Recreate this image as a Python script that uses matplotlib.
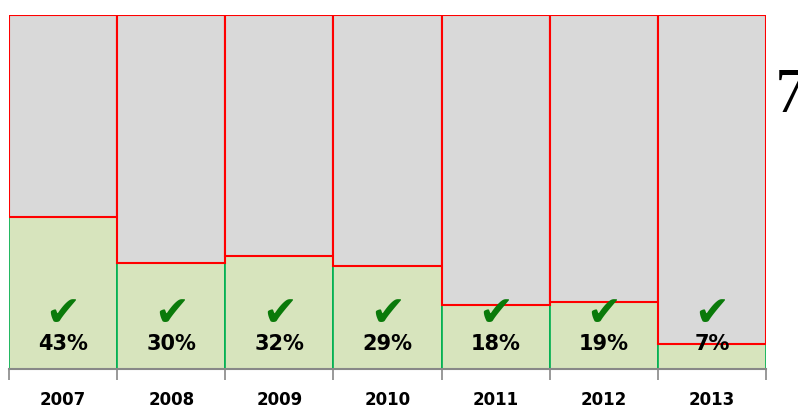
import matplotlib
matplotlib.use('Agg')
import matplotlib.pyplot as plt

years = ['2007', '2008', '2009', '2010', '2011', '2012', '2013']
share = [43, 30, 32, 29, 18, 19, 7]
rest = [100 - v for v in share]

fig = plt.figure(figsize=(7.98, 4.09), dpi=100)
ax = fig.add_axes([9 / 798, 40 / 409, 757 / 798, 354 / 409])

x = list(range(len(years)))
ax.bar(x, share, width=1.0, color='#d7e4bd', edgecolor='#00b050', linewidth=1.2)
ax.bar(x, rest, width=1.0, bottom=share, color='#d9d9d9', edgecolor='#ff0000', linewidth=1.5)

for xi, v in zip(x, share):
    ax.text(xi, 15.5, '\u2714', ha='center', va='center', fontsize=30,
            color='#0a7a0a', family='DejaVu Sans')
    ax.text(xi, 7, f'{v}%', ha='center', va='center', fontsize=15,
            fontweight='bold', color='black')

ax.set_xlim(-0.5, len(years) - 0.5)
ax.set_ylim(0, 100)
ax.set_yticks([])
ax.set_xticks(x)
ax.set_xticklabels(years, fontsize=12, fontweight='bold')
ax.tick_params(axis='x', which='major', length=0, pad=16)
ax.set_xticks([i - 0.5 for i in range(len(years) + 1)], minor=True)
ax.tick_params(axis='x', which='minor', length=8, width=1.2, color='#888888')
for s in ['top', 'left', 'right']:
    ax.spines[s].set_visible(False)
ax.spines['bottom'].set_color('#888888')
ax.spines['bottom'].set_linewidth(1.5)

fig.text(775 / 798, 1 - 97 / 409, '7', ha='left', va='center', fontsize=46,
         family='Liberation Serif', color='black')

fig.savefig('out.png', dpi=100)
